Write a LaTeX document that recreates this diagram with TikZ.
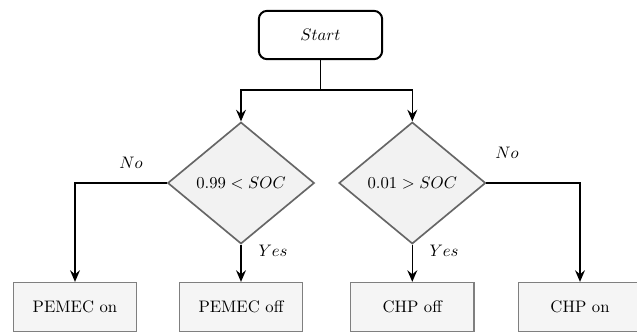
\documentclass[tikz,border=0pt]{standalone}
\usetikzlibrary{shapes.geometric}
\usetikzlibrary{arrows.meta}
\tikzset{>={Stealth[length=7pt,width=6pt,inset=2.5pt]}}

\definecolor{decfill}{HTML}{F2F2F2}
\definecolor{decdraw}{HTML}{666666}
\definecolor{boxfill}{HTML}{F5F5F5}
\definecolor{boxdraw}{HTML}{7F7F7F}

\tikzset{
	startbox/.style={draw=black, line width=1.2pt, rounded corners=5pt, fill=white,
		minimum width=74pt, minimum height=29pt, inner sep=0pt},
	decision/.style={diamond, draw=decdraw, line width=1pt, fill=decfill,
		minimum width=88pt, minimum height=73pt, inner sep=0pt},
	action/.style={rectangle, draw=boxdraw, line width=0.7pt, fill=boxfill,
		minimum width=74pt, minimum height=29.5pt, inner sep=0pt},
	flow/.style={->, line width=0.8pt}
}

\begin{document}
\begin{tikzpicture}[x=0.6pt, y=-0.6pt]
		\clip (0, 0) rectangle (637, 333);

		% start and the split below it
		\node[startbox] (start) at (320.5, 35) {$Start$};
		\coordinate (split) at (320.5, 90);

		% decisions
		\node[decision] (socHigh) at (241, 183) {$0.99 < SOC$};
		\node[decision] (socLow) at (412.3, 183) {$0.01 > SOC$};

		% actions
		\node[action] (pemecOn) at (75, 307) {PEMEC on};
		\node[action] (pemecOff) at (241, 307) {PEMEC off};
		\node[action] (chpOff) at (412.3, 307) {CHP off};
		\node[action] (chpOn) at (580, 307) {CHP on};

		% labels
		\node (noHigh) at (131, 163) {$No$};
		\node (yesHigh) at (273, 251) {$Yes$};
		\node (noLow) at (507, 153) {$No$};
		\node (yesLow) at (444, 251) {$Yes$};

		\draw[line width=0.8pt] (start.south) -- (split);
		\draw[flow] (split) -| (socHigh.north);
		\draw[flow] (split) -| (socLow.north);

		\draw[flow] (socHigh.west) -| (pemecOn.north);
		\draw[flow] (socHigh.south) -- (pemecOff.north);
		\draw[flow] (socLow.south) -- (chpOff.north);
		\draw[flow] (socLow.east) -| (chpOn.north);
	\end{tikzpicture}
\end{document}
